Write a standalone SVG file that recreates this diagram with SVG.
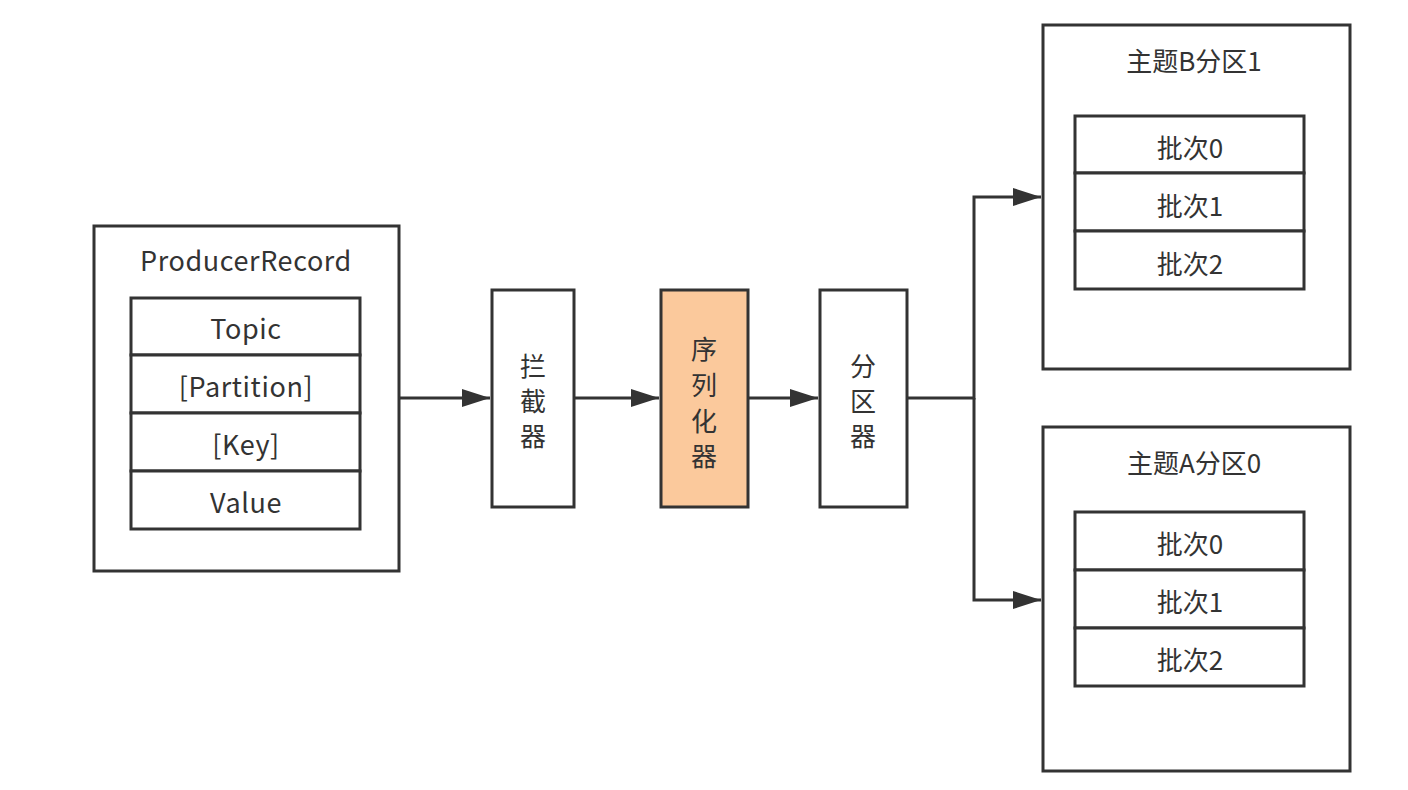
<svg xmlns="http://www.w3.org/2000/svg" width="1408" height="790" viewBox="0 0 1408 790">
<defs>
<style>
.b{fill:#fff;stroke:#333;stroke-width:3}
.t{font-family:"Noto Sans CJK SC","Noto Sans",sans-serif;font-size:26px;fill:#333;text-anchor:middle;dominant-baseline:central}
.l{font-size:27px;letter-spacing:0.6px}
.c{fill:none;stroke:#333;stroke-width:3}
</style>
<marker id="a" viewBox="0 0 28 18" refX="28" refY="9" markerWidth="28" markerHeight="18" markerUnits="userSpaceOnUse" orient="auto"><path d="M0,0 L28,9 L0,18 Z" fill="#333"/></marker>
</defs>
<rect width="1408" height="790" fill="#fff"/>
<g id="producer-record">
<rect class="b" x="94" y="226" width="305" height="345"/>
<text class="t l" x="246" y="259">ProducerRecord</text>
<rect class="b" x="131" y="298" width="229" height="57"/>
<text class="t l" x="246" y="327">Topic</text>
<rect class="b" x="131" y="355" width="229" height="58"/>
<text class="t l" x="246" y="385">[Partition]</text>
<rect class="b" x="131" y="413" width="229" height="58"/>
<text class="t l" x="246" y="443">[Key]</text>
<rect class="b" x="131" y="471" width="229" height="58"/>
<text class="t l" x="246" y="501">Value</text>
</g>
<g id="interceptor">
<rect class="b" x="492" y="290" width="82" height="217"/>
<text class="t" x="533" y="364">拦</text>
<text class="t" x="533" y="399">截</text>
<text class="t" x="533" y="434">器</text>
</g>
<g id="serializer">
<rect x="661" y="290" width="87" height="217" fill="#fbc99c" stroke="#333" stroke-width="3"/>
<text class="t" x="704" y="347">序</text>
<text class="t" x="704" y="383">列</text>
<text class="t" x="704" y="419">化</text>
<text class="t" x="704" y="454">器</text>
</g>
<g id="partitioner">
<rect class="b" x="820" y="290" width="87" height="217"/>
<text class="t" x="863" y="364">分</text>
<text class="t" x="863" y="399">区</text>
<text class="t" x="863" y="434">器</text>
</g>
<g id="topic-b-partition-1">
<rect class="b" x="1043" y="25" width="307" height="344"/>
<text class="t" x="1194" y="59">主题B分区1</text>
<rect class="b" x="1075" y="116" width="229" height="57"/>
<text class="t" x="1190" y="146">批次0</text>
<rect class="b" x="1075" y="173" width="229" height="58"/>
<text class="t" x="1190" y="204">批次1</text>
<rect class="b" x="1075" y="231" width="229" height="58"/>
<text class="t" x="1190" y="262">批次2</text>
</g>
<g id="topic-a-partition-0">
<rect class="b" x="1043" y="427" width="307" height="344"/>
<text class="t" x="1194" y="461">主题A分区0</text>
<rect class="b" x="1075" y="512" width="229" height="58"/>
<text class="t" x="1190" y="542">批次0</text>
<rect class="b" x="1075" y="570" width="229" height="58"/>
<text class="t" x="1190" y="600">批次1</text>
<rect class="b" x="1075" y="628" width="229" height="58"/>
<text class="t" x="1190" y="658">批次2</text>
</g>
<g id="connectors">
<path class="c" d="M399,398 H490" marker-end="url(#a)"/>
<path class="c" d="M574,398 H659" marker-end="url(#a)"/>
<path class="c" d="M748,398 H818" marker-end="url(#a)"/>
<path class="c" d="M907,398 H974 V197 H1041" marker-end="url(#a)"/>
<path class="c" d="M974,398 V600 H1041" marker-end="url(#a)"/>
</g>
</svg>
